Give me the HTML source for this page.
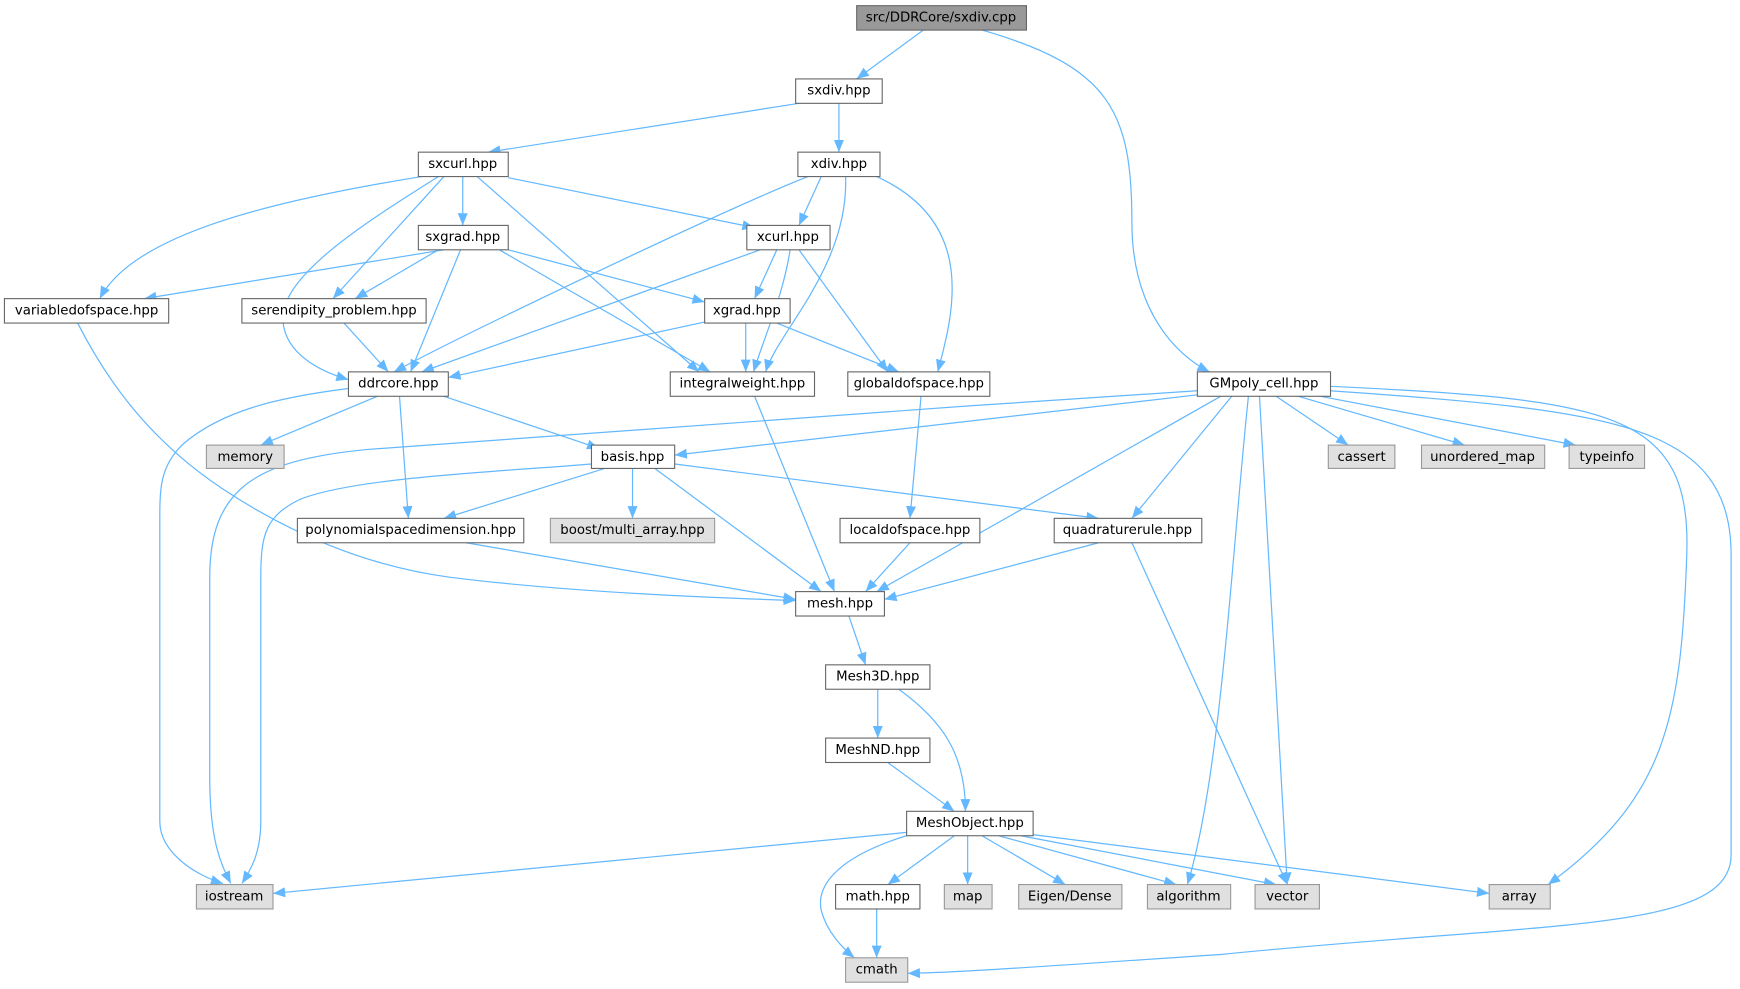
<!DOCTYPE html>
<html><head><meta charset="utf-8"><style>
html,body{margin:0;padding:0;background:#fff;}
svg{display:block}
text{font-family:"DejaVu Sans","Liberation Sans",sans-serif;font-size:12px;fill:#000;text-anchor:middle;dominant-baseline:central}
.e{fill:none;stroke:#63b8ff;stroke-width:1.1;marker-end:url(#a)}
.n{fill:#fff;stroke:#666;stroke-width:1}
.g{fill:#e0e0e0;stroke:#999;stroke-width:1}
</style></head><body>
<svg width="1740" height="989" viewBox="0 0 1568 891" xmlns="http://www.w3.org/2000/svg">
<defs><marker id="a" markerUnits="userSpaceOnUse" markerWidth="12" markerHeight="10" refX="11" refY="5" orient="auto"><path d="M0,0.5 L11,5 L0,9.5 z" fill="#63b8ff"/></marker></defs>
<g>
<path class="e" d="M832,27 L772,71"/>
<path class="e" d="M885,27 C1000,60 1020,100 1020,200 C1020,280 1060,320 1090,335"/>
<path class="e" d="M720,93 L440,137"/>
<path class="e" d="M756,93 L756,137"/>
<path class="e" d="M458,160 L680,205"/>
<path class="e" d="M417,159 L417,203"/>
<path class="e" d="M380,159 C250,180 120,210 90,269"/>
<path class="e" d="M400,159 L300,269"/>
<path class="e" d="M395,159 C330,200 250,250 255,290 C258,320 290,335 314,342"/>
<path class="e" d="M430,159 L630,335"/>
<path class="e" d="M740,159 L720,203"/>
<path class="e" d="M728,159 C650,190 420,300 355,335"/>
<path class="e" d="M762,159 C765,240 700,300 690,335"/>
<path class="e" d="M790,159 C880,200 860,280 845,335"/>
<path class="e" d="M400,225 L130,269"/>
<path class="e" d="M395,225 L320,269"/>
<path class="e" d="M415,225 L370,335"/>
<path class="e" d="M450,225 L640,335"/>
<path class="e" d="M458,225 L635,272"/>
<path class="e" d="M700,225 L680,269"/>
<path class="e" d="M712,225 C706,265 690,300 679,335"/>
<path class="e" d="M685,225 L380,335"/>
<path class="e" d="M720,225 L800,335"/>
<path class="e" d="M310,291 L350,335"/>
<path class="e" d="M640,289 L404,340"/>
<path class="e" d="M672,291 L672,335"/>
<path class="e" d="M700,291 L810,335"/>
<path class="e" d="M70,291 C100,350 140,400 200,440 C260,480 330,510 405,520 C500,532 620,538 717,541"/>
<path class="e" d="M314,350 C250,358 200,370 165,400 C144,420 144,440 144,470 L144,740 C144,770 180,790 201,796"/>
<path class="e" d="M340,357 L235,401"/>
<path class="e" d="M360,357 L368,467"/>
<path class="e" d="M400,357 L540,404"/>
<path class="e" d="M680,357 L752,533"/>
<path class="e" d="M830,357 L820,467"/>
<path class="e" d="M1079,352 C800,370 450,395 330,405 C230,415 189,440 189,520 L189,700 C189,760 200,780 208,796"/>
<path class="e" d="M1085,355 L608,410"/>
<path class="e" d="M1100,357 L790,533"/>
<path class="e" d="M1110,357 L1020,467"/>
<path class="e" d="M1125,357 C1110,500 1100,700 1070,797"/>
<path class="e" d="M1135,357 L1160,797"/>
<path class="e" d="M1150,357 L1215,401"/>
<path class="e" d="M1170,357 L1320,401"/>
<path class="e" d="M1190,357 L1420,401"/>
<path class="e" d="M1199,348 C1450,360 1525,370 1520,500 C1515,650 1500,720 1395,797"/>
<path class="e" d="M1199,352 C1450,370 1560,380 1560,500 L1560,770 C1560,840 1400,830 1100,860 C950,870 870,876 818,877"/>
<path class="e" d="M533,418 C450,425 320,430 270,450 C240,465 235,480 235,520 L235,740 C235,770 225,785 218,796"/>
<path class="e" d="M545,422 L400,467"/>
<path class="e" d="M570,422 L570,467"/>
<path class="e" d="M590,422 L740,533"/>
<path class="e" d="M608,418 L990,467"/>
<path class="e" d="M420,489 L717,540"/>
<path class="e" d="M820,489 L780,533"/>
<path class="e" d="M990,489 L797,540"/>
<path class="e" d="M1020,489 L1160,797"/>
<path class="e" d="M765,555 L780,599"/>
<path class="e" d="M791,621 L791,665"/>
<path class="e" d="M810,621 C850,650 870,680 870,731"/>
<path class="e" d="M800,687 L860,731"/>
<path class="e" d="M817,750 L246,805"/>
<path class="e" d="M820,752 C760,770 735,795 740,820 C745,840 760,855 770,863"/>
<path class="e" d="M860,753 L800,797"/>
<path class="e" d="M872,753 L872,797"/>
<path class="e" d="M885,753 L960,797"/>
<path class="e" d="M900,753 L1060,797"/>
<path class="e" d="M920,753 L1150,797"/>
<path class="e" d="M931,752 L1342,805"/>
<path class="e" d="M790,819 L790,863"/>
</g>
<g>
<rect x="772" y="5" width="153" height="22" fill="#999" stroke="#666"/><text x="848" y="16">src/DDRCore/sxdiv.cpp</text>
<rect class="n" x="717" y="71" width="78" height="22"/><text x="756" y="82">sxdiv.hpp</text>
<rect class="n" x="377" y="137" width="81" height="22"/><text x="417" y="148">sxcurl.hpp</text>
<rect class="n" x="719" y="137" width="74" height="22"/><text x="756" y="148">xdiv.hpp</text>
<rect class="n" x="377" y="203" width="81" height="22"/><text x="417" y="214">sxgrad.hpp</text>
<rect class="n" x="673" y="203" width="75" height="22"/><text x="710" y="214">xcurl.hpp</text>
<rect class="n" x="4" y="269" width="148" height="22"/><text x="78" y="280">variabledofspace.hpp</text>
<rect class="n" x="218" y="269" width="166" height="22"/><text x="301" y="280">serendipity_problem.hpp</text>
<rect class="n" x="635" y="269" width="77" height="22"/><text x="673" y="280">xgrad.hpp</text>
<rect class="n" x="314" y="335" width="90" height="22"/><text x="359" y="346">ddrcore.hpp</text>
<rect class="n" x="604" y="335" width="130" height="22"/><text x="669" y="346">integralweight.hpp</text>
<rect class="n" x="764" y="335" width="128" height="22"/><text x="828" y="346">globaldofspace.hpp</text>
<rect class="n" x="1079" y="335" width="120" height="22"/><text x="1139" y="346">GMpoly_cell.hpp</text>
<rect class="g" x="186" y="401" width="70" height="21"/><text x="221" y="412">memory</text>
<rect class="n" x="533" y="401" width="75" height="21"/><text x="570" y="412">basis.hpp</text>
<rect class="g" x="1197" y="401" width="60" height="21"/><text x="1227" y="412">cassert</text>
<rect class="g" x="1281" y="401" width="111" height="21"/><text x="1336" y="412">unordered_map</text>
<rect class="g" x="1414" y="401" width="68" height="21"/><text x="1448" y="412">typeinfo</text>
<rect class="n" x="268" y="467" width="204" height="22"/><text x="370" y="478">polynomialspacedimension.hpp</text>
<rect class="g" x="496" y="467" width="148" height="22"/><text x="570" y="478">boost/multi_array.hpp</text>
<rect class="n" x="757" y="467" width="126" height="22"/><text x="820" y="478">localdofspace.hpp</text>
<rect class="n" x="950" y="467" width="133" height="22"/><text x="1016" y="478">quadraturerule.hpp</text>
<rect class="n" x="717" y="533" width="80" height="22"/><text x="757" y="544">mesh.hpp</text>
<rect class="n" x="744" y="599" width="94" height="22"/><text x="791" y="610">Mesh3D.hpp</text>
<rect class="n" x="744" y="665" width="94" height="22"/><text x="791" y="676">MeshND.hpp</text>
<rect class="n" x="817" y="731" width="114" height="22"/><text x="874" y="742">MeshObject.hpp</text>
<rect class="g" x="177" y="797" width="69" height="22"/><text x="211" y="808">iostream</text>
<rect class="n" x="753" y="797" width="76" height="22"/><text x="791" y="808">math.hpp</text>
<rect class="g" x="851" y="797" width="43" height="22"/><text x="872" y="808">map</text>
<rect class="g" x="918" y="797" width="93" height="22"/><text x="964" y="808">Eigen/Dense</text>
<rect class="g" x="1034" y="797" width="75" height="22"/><text x="1071" y="808">algorithm</text>
<rect class="g" x="1131" y="797" width="58" height="22"/><text x="1160" y="808">vector</text>
<rect class="g" x="1342" y="797" width="55" height="22"/><text x="1369" y="808">array</text>
<rect class="g" x="762" y="863" width="56" height="22"/><text x="790" y="874">cmath</text>
</g>
</svg>
</body></html>
